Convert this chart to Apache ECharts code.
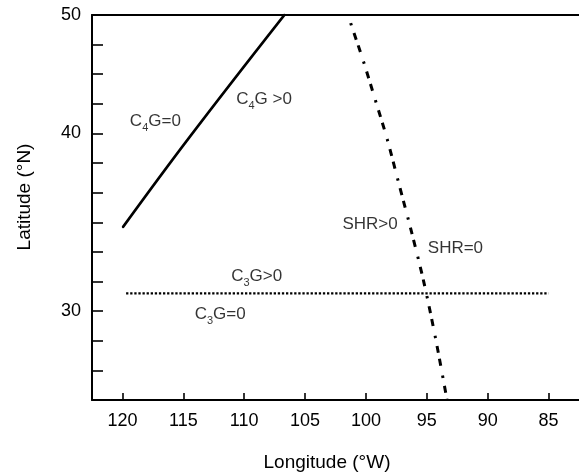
<!DOCTYPE html>
<html>
<head>
<meta charset="utf-8">
<script src="https://cdn.jsdelivr.net/npm/echarts@6/dist/echarts.min.js"></script>
<style>html,body{margin:0;padding:0;background:#fff;}#c{width:579px;height:476px;}</style>
</head>
<body>
<div id="c"></div>
<script>
// ---- data (longitude °W, latitude °N) ----
var xTicks = [120, 115, 110, 105, 100, 95, 90, 85];
var yTickLabels = { 0: '50', 4: '40', 10: '30' };   // labelled tick positions on latitude axis
var c4gLon = [119.94, 114.48, 106.7];
var c4gLat = [34.75, 39.8, 50.0];
var c3gLon = [119.7, 85.0];
var c3gLat = [31.0, 31.0];
var shrLon = [101.47, 101.25, 100.22, 99.26, 98.25, 97.3, 96.26, 95.25, 94.29, 93.34];
var shrLat = [50.0, 49.3, 46.14, 42.93, 39.67, 37.19, 34.47, 31.65, 28.5, 25.0];
var labelText = ['C4G=0', 'C4G >0', 'SHR>0', 'SHR=0', 'C3G>0', 'C3G=0'];
var labelLon = [119.39, 110.66, 101.93, 94.92, 111.07, 114.07];
var labelLat = [41.0, 42.9, 34.87, 33.56, 31.98, 29.84];

// latitude axis of the figure: evenly spaced ticks, 50->40 in 4 steps, 40->30 in 6 steps
function latToU(lat) {
  if (lat >= 40) return (50 - lat) / 2.5;
  return 4 + (40 - lat) * 0.6;
}
function pts(lons, lats) { return lons.map(function (v, i) { return [v, latToU(lats[i])]; }); }

var FONT = "'Liberation Sans', Arial, Helvetica, sans-serif";

function richLabel(t) {
  var m = t.match(/^C(\d)(.*)$/);
  if (m) return '{a|C}{s|' + m[1] + '}{a|' + m[2] + '}';
  return '{a|' + t + '}';
}

var chart = echarts.init(document.getElementById('c'), null, { renderer: 'canvas' });
chart.setOption({
  animation: false,
  backgroundColor: '#fff',
  grid: { left: 92, top: 15, width: 489, height: 385, containLabel: false },
  xAxis: [{
    type: 'value', min: 82.5, max: 122.5, inverse: true, position: 'bottom',
    axisLine: { show: true, onZero: false, lineStyle: { color: '#000', width: 2 } },
    axisTick: { show: true, inside: true, length: 7, customValues: xTicks, lineStyle: { color: '#000', width: 1.6 } },
    axisLabel: { show: true, customValues: xTicks, margin: 12, color: '#000', fontSize: 18, fontFamily: FONT },
    splitLine: { show: false }
  }, {
    type: 'value', min: 82.5, max: 122.5, inverse: true, position: 'top',
    axisLine: { show: true, onZero: false, lineStyle: { color: '#000', width: 2 } },
    axisTick: { show: false }, axisLabel: { show: false }, splitLine: { show: false }
  }],
  yAxis: {
    type: 'value', min: 0, max: 13, interval: 1, inverse: true,
    axisLine: { show: true, onZero: false, lineStyle: { color: '#000', width: 2 } },
    axisTick: { show: true, inside: true, length: 11, lineStyle: { color: '#000', width: 1.6 } },
    axisLabel: {
      show: true, margin: 11, color: '#000', fontSize: 18, fontFamily: FONT,
      formatter: function (v) { return yTickLabels[Math.round(v)] && Math.abs(v - Math.round(v)) < 1e-6 ? yTickLabels[Math.round(v)] : ''; }
    },
    splitLine: { show: false }
  },
  graphic: [
    { type: 'text', x: 327, y: 463, style: { text: 'Longitude (°W)', fill: '#000', font: '19px ' + FONT, align: 'center', verticalAlign: 'middle' } },
    { type: 'text', x: 25, y: 197, rotation: Math.PI / 2, style: { text: 'Latitude (°N)', fill: '#000', font: '19px ' + FONT, align: 'center', verticalAlign: 'middle' } }
  ],
  series: [
    { type: 'line', data: pts(c4gLon, c4gLat), symbol: 'none', smooth: 0.4, lineStyle: { color: '#000', width: 2.8, cap: 'round' }, silent: true },
    { type: 'line', data: pts(c3gLon, c3gLat), symbol: 'none', lineStyle: { color: '#000', width: 2.3, type: [2.3, 1.8] }, silent: true },
    { type: 'line', data: pts(shrLon, shrLat), symbol: 'none', smooth: 0.3, lineStyle: { color: '#000', width: 3, type: [2.5, 8, 7, 6, 7, 10], dashOffset: 32 }, silent: true },
    {
      type: 'scatter', symbolSize: 0, silent: true,
      data: labelLon.map(function (v, i) { return { value: [v, latToU(labelLat[i])], label: { formatter: richLabel(labelText[i]) } }; }),
      label: {
        show: true, position: 'right', distance: 0,
        rich: {
          a: { fontSize: 17, fontFamily: FONT, color: '#000', lineHeight: 20 },
          s: { fontSize: 11, fontFamily: FONT, color: '#000', lineHeight: 11, verticalAlign: 'bottom', padding: [0, 0, -2, 0] }
        }
      }
    }
  ]
});
</script>
</body>
</html>
